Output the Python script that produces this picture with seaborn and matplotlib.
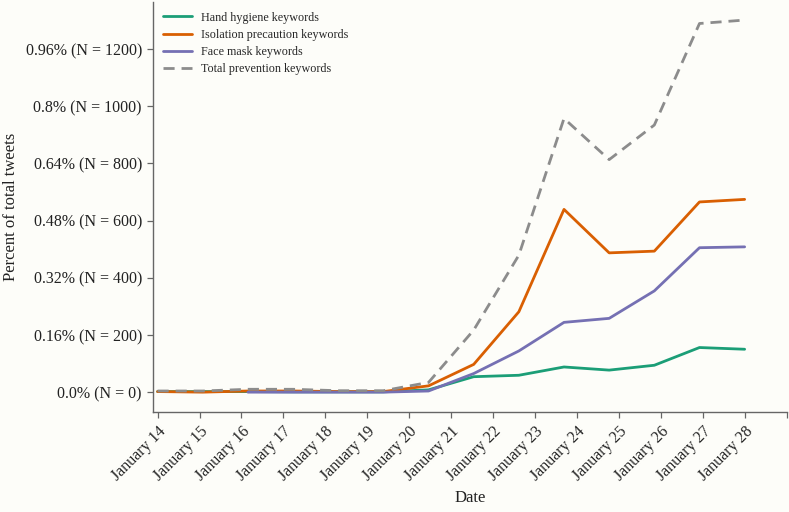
import numpy as np
import pandas as pd
import matplotlib
matplotlib.use("Agg")
import matplotlib.pyplot as plt
import seaborn as sns

# ---- data ----
date_labels = ["January 14", "January 15", "January 16", "January 17", "January 18",
               "January 19", "January 20", "January 21", "January 22", "January 23",
               "January 24", "January 25", "January 26", "January 27", "January 28"]
point_index = list(range(14))
hand_hygiene = [2, 2, 2, 1, 1, 1, 8, 54, 59, 88, 77, 94, 156, 150]
isolation = [2, 0, 4, 4, 2, 2, 22, 97, 281, 639, 487, 493, 665, 674]
face_mask = [np.nan, np.nan, 0, 0, 0, 0, 4, 65, 144, 244, 258, 354, 505, 508]
total = [4, 4, 10, 10, 5, 5, 34, 217, 479, 957, 813, 934, 1289, 1301]
y_ticks = [0, 200, 400, 600, 800, 1000, 1200]
y_tick_labels = ["0.0% (N = 0)", "0.16% (N = 200)", "0.32% (N = 400)", "0.48% (N = 600)",
                 "0.64% (N = 800)", "0.8% (N = 1000)", "0.96% (N = 1200)"]

series = {
    "Hand hygiene keywords": hand_hygiene,
    "Isolation precaution keywords": isolation,
    "Face mask keywords": face_mask,
    "Total prevention keywords": total,
}
colors = {
    "Hand hygiene keywords": "#1b9e77",
    "Isolation precaution keywords": "#d95f02",
    "Face mask keywords": "#7570b3",
    "Total prevention keywords": "#8c8c8c",
}

df = pd.concat([pd.DataFrame({"x": point_index, "value": v, "series": k})
                for k, v in series.items()], ignore_index=True)

sns.set_theme(style="ticks")
plt.rcParams["font.family"] = ["Liberation Serif", "DejaVu Serif"]
bg = "#fdfdf9"

fig = plt.figure(figsize=(7.89, 5.12), dpi=100, facecolor=bg)
ax = fig.add_axes([0.194, 0.195, 0.8035, 0.801])
ax.set_facecolor(bg)

for name in series:
    sub = df[df["series"] == name]
    dashed = name == "Total prevention keywords"
    sns.lineplot(data=sub, x="x", y="value", ax=ax, color=colors[name], lw=2.0,
                 label=name, linestyle="--" if dashed else "-")
    if dashed:
        ax.lines[-1].set_dashes((4, 2.5))

# tick layout: 15 labelled ticks plus an unlabelled one at the axis end
n_lab = len(date_labels)
step = (len(point_index) - 1) / (n_lab - 1)
xt = [i * step for i in range(n_lab + 1)]
ax.set_xticks(xt)
ax.set_xticklabels(date_labels + [""], rotation=45, ha="right", rotation_mode="anchor",
                   fontsize=11.5, color="#222222")
ax.set_xlim(-0.1, xt[-1] + 0.01)

ax.set_yticks(y_ticks)
ax.set_yticklabels(y_tick_labels, fontsize=11.5, color="#222222")
ax.set_ylim(-70, 1364)

ax.set_xlabel("Date", fontsize=12, color="#222222")
ax.set_ylabel("Percent of total tweets", fontsize=12, color="#222222")
ax.xaxis.set_label_coords(0.5, -0.19)
ax.yaxis.set_label_coords(-0.212, 0.5)

for s in ["top", "right"]:
    ax.spines[s].set_visible(False)
for s in ["left", "bottom"]:
    ax.spines[s].set_color("#666666")
    ax.spines[s].set_linewidth(1.0)
ax.tick_params(axis="both", direction="out", length=4, width=0.9, color="#666666", pad=4)

leg = ax.legend(loc="upper left", bbox_to_anchor=(0.0, 1.0), frameon=False, fontsize=8.7,
                handlelength=2.4, labelspacing=0.42, borderaxespad=0.4)
for h in leg.get_lines():
    h.set_linewidth(2.0)

fig.savefig("out.png", dpi=100, facecolor=bg)
